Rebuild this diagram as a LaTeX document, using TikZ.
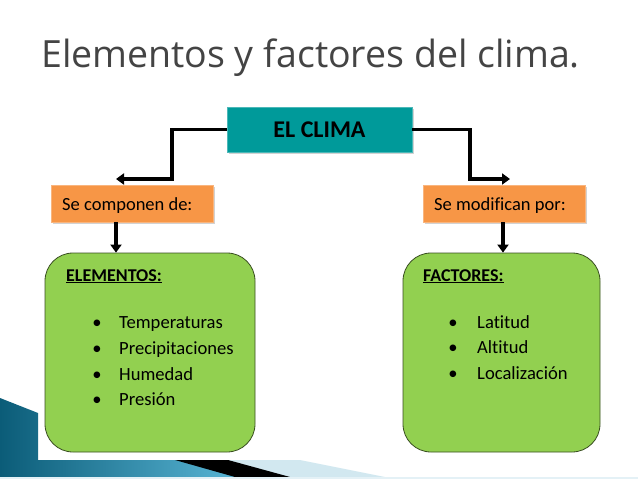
\documentclass[tikz,border=0pt]{standalone}
\usepackage{fontspec}
\setmainfont{Carlito}[Ligatures=NoCommon]
\newfontfamily\titlefont{Open Sans}
\usetikzlibrary{arrows.meta,shadows}
\definecolor{tealbox}{HTML}{009A9A}
\definecolor{orangebox}{HTML}{F79646}
\definecolor{greenbox}{HTML}{92D050}
\definecolor{greenedge}{HTML}{3A4F22}
\definecolor{titlegray}{HTML}{444444}
\definecolor{decodark}{HTML}{0B5C78}
\definecolor{decolight}{HTML}{5BB8D8}
\definecolor{decopale}{HTML}{D2E8F0}
\tikzset{
  shad/.style={drop shadow={opacity=0.35,shadow xshift=2pt,shadow yshift=-2pt,fill=gray}},
  headbox/.style={shad,fill=tealbox,draw=tealbox!70!white,line width=0.6pt,minimum width=185pt,minimum height=45pt,inner sep=0pt,font=\fontsize{24}{28}\selectfont\bfseries},
  midbox/.style={shad,fill=orangebox,draw=orangebox!70!white,line width=0.6pt,minimum width=162pt,minimum height=37pt,inner sep=0pt},
  greenpanel/.style={fill=greenbox,draw=greenedge,line width=0.8pt,rounded corners=28pt,minimum height=199pt,inner sep=0pt},
  midtext/.style={anchor=base west,font=\fontsize{18.5}{22}\selectfont,inner sep=0pt},
  heading/.style={anchor=base west,font=\fontsize{18}{22}\selectfont\bfseries,inner sep=0pt},
  itemtext/.style={anchor=base west,font=\fontsize{18.6}{22}\selectfont,inner sep=0pt},
  bul/.style={anchor=base,font=\fontsize{18.6}{22}\selectfont,inner sep=0pt},
  arr/.style={line width=3.2pt,-{Triangle[width=11pt,length=8pt]}}
}
\begin{document}
\begin{tikzpicture}[x=1pt,y=-1pt]
\useasboundingbox (0,0) rectangle (638,479);
\fill[white] (0,0) rectangle (638,479);
% bottom decoration
\fill[decopale] (215,460) -- (300,460) -- (385,477) -- (270,477) -- cycle;
\shade[left color=decodark,right color=decolight] (0,398) -- (38,413) -- (38,460) -- (190,460) -- (245,477) -- (0,477) -- cycle;
\fill[black] (175,460) -- (228,460) -- (290,477) -- (235,477) -- cycle;
\fill[decopale!60!white] (0,477) rectangle (638,479);
% title
\node[anchor=base west,inner sep=0pt,text=titlegray,font=\titlefont\fontsize{37.5}{44}\selectfont] (title) at (41,67) {Elementos y factores del clima.};
% boxes
\node[headbox] (clima) at (319.5,129.5) {EL CLIMA};
\node[midbox] (comp) at (132,203.5) {};
\node[midbox] (modi) at (504,203.5) {};
\node[midtext] (comptext) at (62,210) {Se componen de:};
\node[midtext] (moditext) at (434,210) {Se modifican por:};
\node[greenpanel,minimum width=210pt] (elem) at (150,352.5) {};
\node[greenpanel,minimum width=197pt] (fact) at (501.5,352.5) {};
% connectors
\coordinate (lturn) at (172,179);
\coordinate (lend) at (116,179);
\coordinate (rturn) at (470,179);
\coordinate (rend) at (510,179);
\draw[arr] (clima.west) -| (lturn) -- (lend);
\draw[arr] (clima.east) -| (rturn) -- (rend);
\draw[arr] (comp.south -| lend) -- (elem.north -| lend);
\draw[arr] (modi.south -| 503,0) -- (fact.north -| 503,0);
% elementos
\node[heading] (elh) at (66,281) {\underline{ELEMENTOS:}};
\node[bul] (b1) at (97,328) {•};
\node[itemtext] (t1) at (119,328) {Temperaturas};
\node[bul] (b2) at (97,354) {•};
\node[itemtext] (t2) at (119,354) {Precipitaciones};
\node[bul] (b3) at (97,380) {•};
\node[itemtext] (t3) at (119,380) {Humedad};
\node[bul] (b4) at (97,405) {•};
\node[itemtext] (t4) at (119,405) {Presión};
% factores
\node[heading] (fah) at (423,281) {\underline{FACTORES:}};
\node[bul] (c1) at (453,328) {•};
\node[itemtext] (u1) at (477,328) {Latitud};
\node[bul] (c2) at (453,353) {•};
\node[itemtext] (u2) at (477,353) {Altitud};
\node[bul] (c3) at (453,379) {•};
\node[itemtext] (u3) at (477,379) {Localización};
\end{tikzpicture}
\end{document}
